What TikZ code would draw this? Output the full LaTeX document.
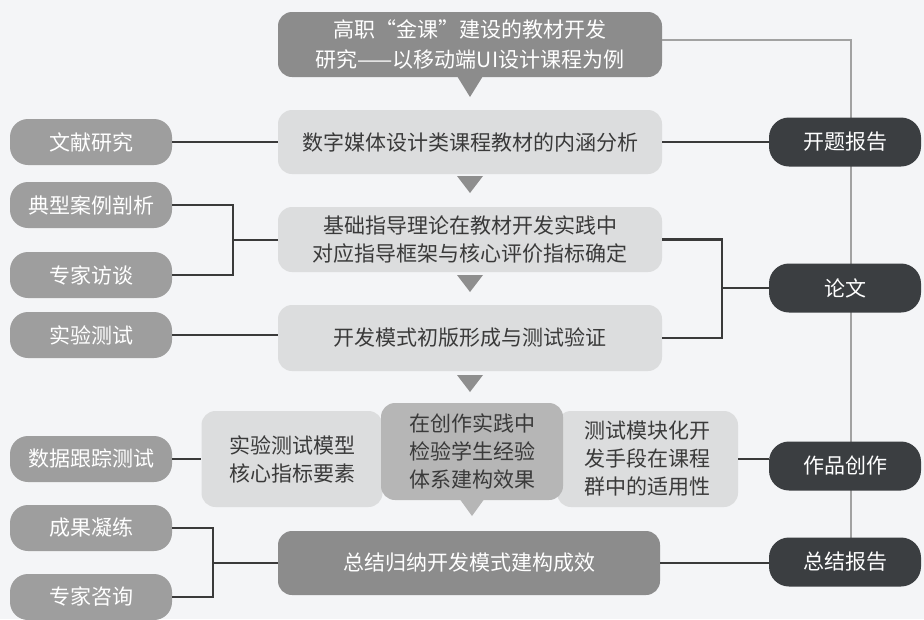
\documentclass[tikz,border=0pt]{standalone}
\usepackage{fontspec}
\setmainfont{Noto Sans CJK SC}
\definecolor{bg}{HTML}{F4F5F7}
\definecolor{gtop}{HTML}{8C8C8C}
\definecolor{gleft}{HTML}{9E9E9E}
\definecolor{glight}{HTML}{DCDDDE}
\definecolor{gmid}{HTML}{B6B6B6}
\definecolor{gdark}{HTML}{3B3E41}
\definecolor{gtri}{HTML}{8E8E8E}
\definecolor{gline}{HTML}{A2A2A2}
\definecolor{tdark}{HTML}{3A3A3A}
\begin{document}
\begin{tikzpicture}[x=1pt,y=-1pt,
  txt/.style={font=\fontsize{21}{28}\selectfont, align=center, inner sep=0pt},
  topbox/.style={txt, fill=gtop, text=white, rounded corners=14pt, minimum width=384pt, minimum height=65pt},
  cbox/.style={txt, fill=glight, text=tdark, rounded corners=14pt, minimum width=384pt},
  sidebox/.style={txt, fill=gleft, text=white, rounded corners=18pt, minimum width=162pt, minimum height=46pt},
  darkbox/.style={txt, fill=gdark, text=white, rounded corners=20pt, minimum width=152pt, minimum height=49pt},
  midbox/.style={txt, fill=glight, text=tdark, rounded corners=14pt, minimum width=181pt, minimum height=96pt},
  link/.style={draw=tdark, line width=2.6pt},
  glink/.style={draw=gline, line width=2pt},
  tri/.style={fill=gtri}]
\fill[bg] (0,0) rectangle (924,619);
\useasboundingbox (0,0) rectangle (924,619);

% centre column
\node[topbox, font=\fontsize{21}{30}\selectfont] (top) at (470,44.5) {高职“金课”建设的教材开发\\研究——以移动端UI设计课程为例};
\fill[gtop] (457,76) -- (483,76) -- (470,97) -- cycle;
\node[cbox, minimum height=64pt] (c1) at (470,142) {数字媒体设计类课程教材的内涵分析};
\fill[gtri] (457,176) -- (483,176) -- (470,193) -- cycle;
\node[cbox, minimum height=65pt] (c2) at (470,239.5) {基础指导理论在教材开发实践中\\对应指导框架与核心评价指标确定};
\fill[gtri] (457,275) -- (483,275) -- (470,292) -- cycle;
\node[cbox, minimum height=66pt] (c3) at (470,338) {开发模式初版形成与测试验证};
\fill[gtri] (457,375) -- (483,375) -- (470,392) -- cycle;

% middle row
\node[midbox] (ml) at (292,459) {实验测试模型\\核心指标要素};
\node[midbox] (mr) at (647.5,459) {测试模块化开\\发手段在课程\\群中的适用性};
\node[midbox, fill=gmid, minimum width=182pt, minimum height=97pt] (mc) at (472,451.5) {在创作实践中\\检验学生经验\\体系建构效果};
\fill[gmid] (459,498) -- (485,498) -- (472,516) -- cycle;

\node[cbox, fill=gtop, text=white, minimum width=382pt, minimum height=64pt] (c5) at (469,563) {总结归纳开发模式建构成效};

% left column
\node[sidebox] (l1) at (91,142) {文献研究};
\node[sidebox] (l2) at (91,205) {典型案例剖析};
\node[sidebox] (l3) at (91,275) {专家访谈};
\node[sidebox] (l4) at (91,335) {实验测试};
\node[sidebox] (l5) at (91,459) {数据跟踪测试};
\node[sidebox] (l6) at (91,528) {成果凝练};
\node[sidebox] (l7) at (91,597) {专家咨询};

% grey spine on the right
\coordinate (spine) at (851,538);
\draw[glink] (top.east |- 0,40) -| (spine);

% right column
\node[darkbox] (r1) at (845,142) {开题报告};
\node[darkbox] (r2) at (845,288) {论文};
\node[darkbox] (r3) at (845,466) {作品创作};
\node[darkbox] (r4) at (845,562) {总结报告};

% left connectors
\draw[link] (l1.east) -- (c1.west);
\draw[link] (l2.east) -| (233,240) |- (l3.east);
\draw[link] (233,240) -- (c2.west |- 0,240);
\draw[link] (l4.east) -- (l4.east -| c3.west);
\draw[link] (l5.east) -- (ml.west);
\draw[link] (l6.east) -| (213,563) |- (l7.east);
\draw[link] (213,563) -- (c5.west);

% right connectors
\draw[link] (c1.east) -- (r1.west);
\draw[link] (c2.east) -| (722,338) -- (c3.east);
\draw[link] (722,288) -- (r2.west);
\draw[link] (mr.east) -- (mr.east -| r3.west);
\draw[link] (c5.east) -- (c5.east -| r4.west);
\end{tikzpicture}
\end{document}
